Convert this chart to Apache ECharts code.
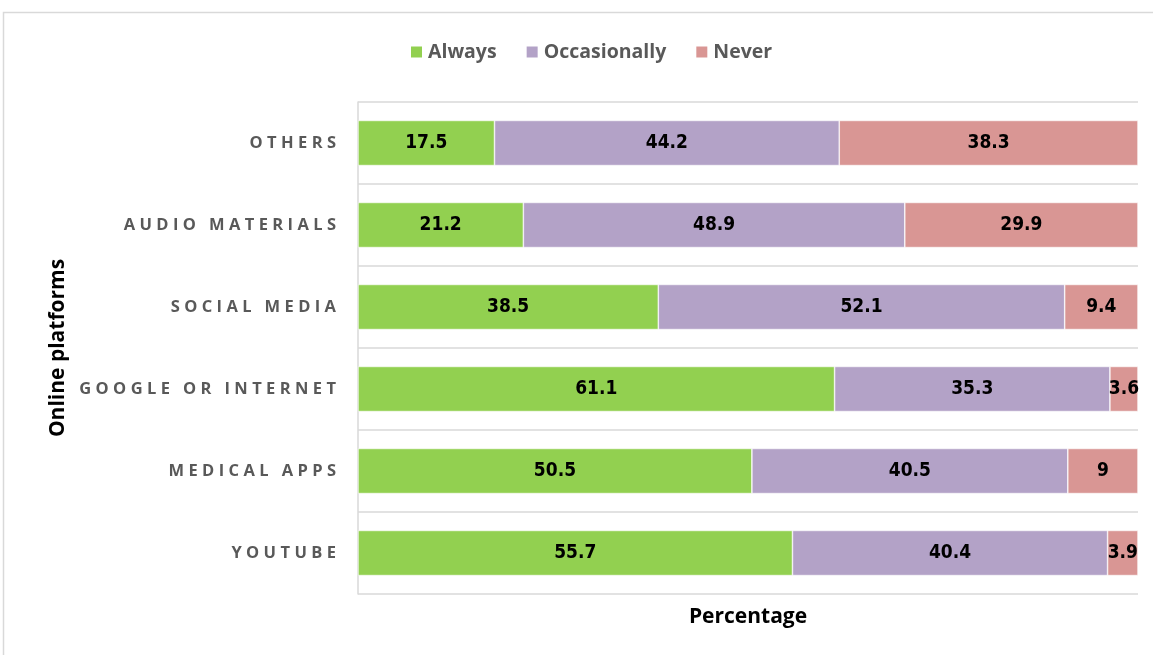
<!DOCTYPE html>
<html><head><meta charset="utf-8">
<script src="https://cdn.jsdelivr.net/npm/echarts@6/dist/echarts.min.js"></script>
<style>html,body{margin:0;padding:0;background:#fff}#c{width:1153px;height:655px}</style>
</head><body><div id="c"></div>
<script>
const categories = ['YOUTUBE','MEDICAL APPS','GOOGLE OR INTERNET','SOCIAL MEDIA','AUDIO MATERIALS','OTHERS'];
const always = [55.7, 50.5, 61.1, 38.5, 21.2, 17.5];
const occasionally = [40.4, 40.5, 35.3, 52.1, 48.9, 44.2];
const never = [3.9, 9, 3.6, 9.4, 29.9, 38.3];
const seriesNames = ['Always','Occasionally','Never'];
const colors = ['#92D050','#B3A2C7','#D99694'];
const lblFont = '"Liberation Sans Narrow","DejaVu Sans Condensed","Noto Sans",sans-serif';
const chart = echarts.init(document.getElementById('c'), null, {renderer:'canvas'});
function mk(name, data, color){
  return {name, type:'bar', stack:'t', data, barWidth:'55%',
    itemStyle:{color, borderColor:'#ffffff', borderWidth:0.6},
    label:{show:true, position:'inside', color:'#000', fontWeight:'bold', fontSize:19, fontFamily:lblFont},
    emphasis:{disabled:true}};
}
chart.setOption({
  animation:false,
  graphic:[{type:'rect', shape:{x:3.5,y:12.5,width:1200,height:700}, style:{fill:'none', stroke:'#d9d9d9', lineWidth:1.5}, silent:true}],
  legend:{top:37, left:404, itemWidth:13, itemHeight:13, itemGap:28, icon:'rect',
    textStyle:{color:'#595959', fontWeight:'bold', fontSize:19.5, fontFamily:'"Open Sans",sans-serif'}, data:seriesNames},
  grid:{left:358, right:15, top:102, bottom:61},
  xAxis:{type:'value', min:0, max:100, axisLabel:{show:false}, splitLine:{show:false}, axisLine:{show:false}, axisTick:{show:false},
    name:'Percentage', nameLocation:'middle', nameGap:13,
    nameTextStyle:{color:'#000', fontWeight:'bold', fontSize:21, fontFamily:'"Open Sans",sans-serif'}},
  yAxis:{type:'category', data:categories,
    axisLine:{show:true, lineStyle:{color:'#d9d9d9', width:1.5}}, axisTick:{show:false},
    splitLine:{show:true, lineStyle:{color:'#d9d9d9', width:1.5}},
    axisLabel:{color:'#595959', fontWeight:'bold', fontSize:16.5, margin:22, fontFamily:'"Open Sans",sans-serif',
      formatter:v=>v.split('').join('\u2009\u200A')},
    name:'Online platforms', nameLocation:'middle', nameGap:287, nameRotate:90,
    nameTextStyle:{color:'#000', fontWeight:'bold', fontSize:21, fontFamily:'"Open Sans",sans-serif'}},
  series:[mk(seriesNames[0], always, colors[0]), mk(seriesNames[1], occasionally, colors[1]), mk(seriesNames[2], never, colors[2])]
});
</script></body></html>
